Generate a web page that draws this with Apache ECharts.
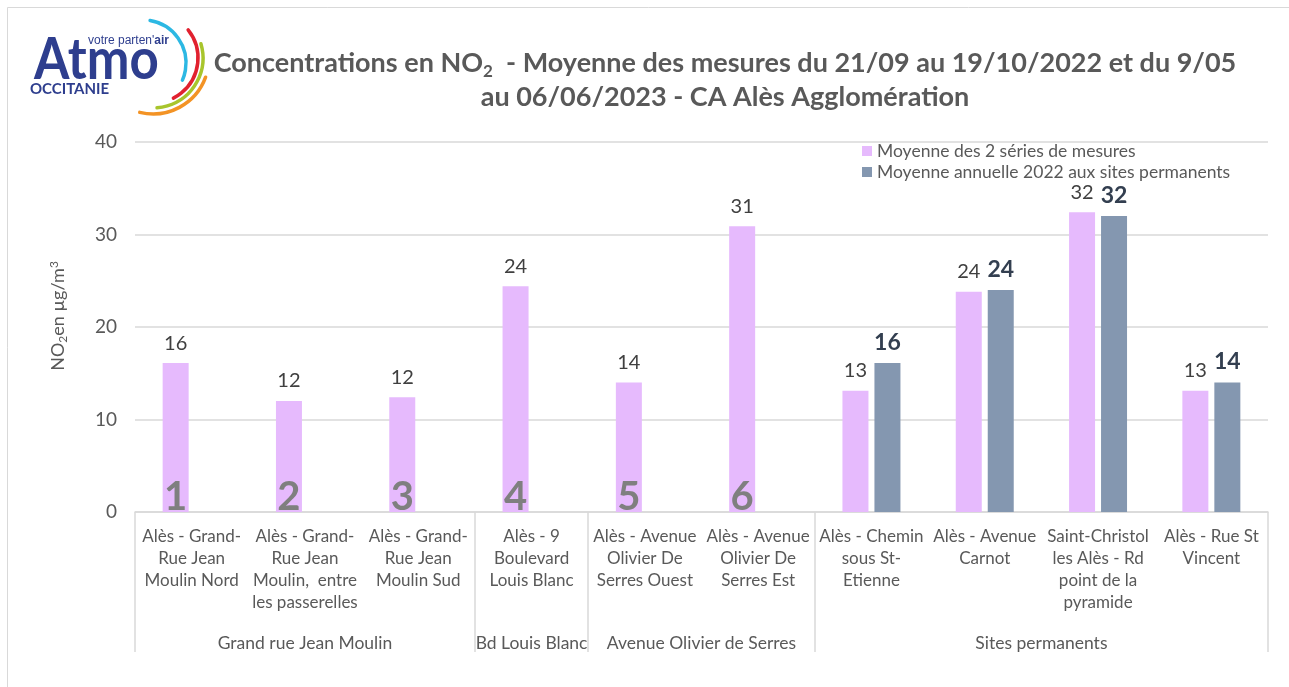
<!DOCTYPE html>
<html><head><meta charset="utf-8">
<script src="https://cdn.jsdelivr.net/npm/echarts@6/dist/echarts.min.js"></script>
<style>html,body{margin:0;padding:0;background:#fff}#c{width:1289px;height:687px}</style>
</head><body><div id="c"></div>
<script>
const categories = [
  'Alès - Grand-\nRue Jean\nMoulin Nord',
  'Alès - Grand-\nRue Jean\nMoulin,  entre\nles passerelles',
  'Alès - Grand-\nRue Jean\nMoulin Sud',
  'Alès - 9\nBoulevard\nLouis Blanc',
  'Alès - Avenue\nOlivier De\nSerres Ouest',
  'Alès - Avenue\nOlivier De\nSerres Est',
  'Alès - Chemin\nsous St-\nEtienne',
  'Alès - Avenue\nCarnot',
  'Saint-Christol\nles Alès - Rd\npoint de la\npyramide',
  'Alès - Rue St\nVincent'
];
const seriesNames = ['Moyenne des 2 séries de mesures', 'Moyenne annuelle 2022 aux sites permanents'];
const campaignValues = [16.1, 12.0, 12.4, 24.4, 14.0, 30.9, 13.1, 23.8, 32.4, 13.1];
const permanentValues = [null, null, null, null, null, null, 16.1, 24.0, 32.0, 14.0];
const siteNumbers = ['1', '2', '3', '4', '5', '6', '', '', '', ''];
const groupNames = ['Grand rue Jean Moulin', 'Bd Louis Blanc', 'Avenue Olivier de Serres', 'Sites permanents'];
const groupSizes = [3, 1, 2, 4];
const yTicks = [0, 10, 20, 30, 40];

const FONT = 'Lato';
const boundaries = [0];
const centers = [];
groupSizes.forEach(s => { const b = boundaries[boundaries.length - 1]; centers.push(b + s / 2); boundaries.push(b + s); });

const chart = echarts.init(document.getElementById('c'), null, {renderer: 'canvas'});
const BW = 26, GAP = '23%';
const LOGO = '#2E3E8E';
chart.setOption({
  backgroundColor: '#fff',
  animation: false,
  textStyle: {fontFamily: FONT},
  grid: {left: 135, right: 21, top: 142, bottom: 175, containLabel: false},
  legend: {
    data: seriesNames, orient: 'vertical', left: 857, top: 137, itemWidth: 10, itemHeight: 10, itemGap: 3,
    textStyle: {color: '#595959', fontSize: 17.5, fontFamily: FONT}, icon: 'rect', selectedMode: false
  },
  xAxis: [
    {type: 'category', data: categories, gridIndex: 0,
      axisLine: {lineStyle: {color: '#d9d9d9', width: 1.5}}, axisTick: {show: false},
      axisLabel: {interval: 0, color: '#595959', fontSize: 17, lineHeight: 22, margin: 14, fontFamily: FONT}},
    {type: 'value', min: 0, max: 10, gridIndex: 0, position: 'bottom',
      axisLine: {show: false}, splitLine: {show: false},
      axisTick: {show: true, customValues: boundaries, length: 140, inside: false, lineStyle: {color: '#d9d9d9', width: 1.5}},
      axisLabel: {customValues: centers, margin: 122, color: '#595959', fontSize: 17.5, fontFamily: FONT,
        formatter: v => { const i = centers.findIndex(c => Math.abs(c - v) < 1e-6); return i >= 0 ? groupNames[i] : ''; }}},
    {type: 'category', data: categories, gridIndex: 0, show: false}
  ],
  yAxis: {
    type: 'value', min: 0, max: 40, interval: 10,
    name: '{a|NO}{s|2}{a|en µg/m}{p|3}', nameLocation: 'middle', nameRotate: 90, nameGap: 66,
    nameTextStyle: {padding: [0, 0, 0, 22], rich: {
      a: {color: '#595959', fontSize: 18, fontFamily: FONT},
      s: {color: '#595959', fontSize: 12, fontFamily: FONT, verticalAlign: 'bottom', padding: [9, 0, 0, 0]},
      p: {color: '#595959', fontSize: 12, fontFamily: FONT, verticalAlign: 'top', padding: [0, 0, 9, 0]}
    }},
    axisLine: {show: false}, axisTick: {show: false},
    splitLine: {lineStyle: {color: '#d9d9d9', width: 1.5}},
    axisLabel: {color: '#595959', fontSize: 19, margin: 18, fontFamily: FONT,
      formatter: v => yTicks.includes(v) ? String(v) : ''}
  },
  series: [
    {name: seriesNames[0], type: 'bar', xAxisIndex: 0, data: campaignValues, barWidth: BW, barGap: GAP,
      itemStyle: {color: '#E6BAFD'},
      label: {show: true, position: 'top', distance: 10, color: '#404040', fontSize: 20, fontFamily: FONT,
        formatter: p => Math.round(p.value)}},
    {name: seriesNames[1], type: 'bar', xAxisIndex: 0, data: permanentValues, barWidth: BW, barGap: GAP,
      itemStyle: {color: '#8497B0'},
      label: {show: true, position: 'top', distance: 9, color: '#333F50', fontSize: 23, fontWeight: 'bold', fontFamily: FONT,
        formatter: p => Math.round(p.value)}},
    {name: 'num', type: 'bar', xAxisIndex: 2, silent: true, barWidth: BW, barGap: GAP,
      data: campaignValues.map((v, i) => siteNumbers[i] ? v : null),
      itemStyle: {color: 'rgba(0,0,0,0)'},
      label: {show: true, position: 'insideBottom', distance: -5, color: '#7F7F7F', fontSize: 40, fontWeight: 'bold', fontFamily: FONT,
        formatter: p => siteNumbers[p.dataIndex]}},
    {name: 'dummy', type: 'bar', xAxisIndex: 2, silent: true, barWidth: BW, barGap: GAP,
      data: categories.map(() => null), itemStyle: {color: 'rgba(0,0,0,0)'}}
  ],
  graphic: [
    {type: 'polyline', silent: true, shape: {points: [[7.5, 687], [7.5, 7.5], [1289, 7.5]]}, style: {stroke: '#d9d9d9', lineWidth: 1, fill: null}},
    {type: 'text', silent: true, style: {
      x: 725, y: 46, align: 'center', fontFamily: FONT, lineHeight: 34,
      text: '{a|Concentrations en NO}{s|2}{a|  - Moyenne des mesures du 21/09 au 19/10/2022 et du 9/05}\n{a|au 06/06/2023 - CA Alès Agglomération}',
      rich: {
        a: {fontSize: 27, fontWeight: 'bold', fill: '#595959', color: '#595959', fontFamily: FONT, lineHeight: 34},
        s: {fontSize: 17, fontWeight: 'bold', fill: '#595959', color: '#595959', fontFamily: FONT, verticalAlign: 'bottom', lineHeight: 34, padding: [15, 0, 0, 0]}
      }}},
    {type: 'text', silent: true, x: 34, y: 31, scaleX: 0.88, style: {x: 0, y: 0, text: 'Atmo', fontFamily: FONT, fontSize: 58, fontWeight: 'bold', fill: LOGO}},
    {type: 'text', silent: true, style: {x: 88, y: 35, fontFamily: FONT,
      text: '{a|votre parten\'}{b|air}', rich: {a: {fontSize: 12, fill: LOGO, color: LOGO}, b: {fontSize: 12, fontWeight: 'bold', fill: LOGO, color: LOGO}}}},
    {type: 'text', silent: true, style: {x: 30, y: 82, text: 'OCCITANIE', fontFamily: FONT, fontSize: 15, fontWeight: 'bold', fill: LOGO}},
    {type: 'arc', silent: true, shape: {cx: 143, cy: 63, r: 43, startAngle: -1.405, endAngle: 0.41, clockwise: true}, style: {stroke: '#2CB8E3', lineWidth: 3.5, fill: null, lineCap: 'round'}},
    {type: 'arc', silent: true, shape: {cx: 153, cy: 58, r: 45, startAngle: -0.675, endAngle: 1.1, clockwise: true}, style: {stroke: '#E1212F', lineWidth: 3.5, fill: null, lineCap: 'round'}},
    {type: 'arc', silent: true, shape: {cx: 153, cy: 58, r: 50, startAngle: -0.29, endAngle: 1.49, clockwise: true}, style: {stroke: '#A8C52C', lineWidth: 3.5, fill: null, lineCap: 'round'}},
    {type: 'arc', silent: true, shape: {cx: 153, cy: 58, r: 56, startAngle: 0.35, endAngle: 1.81, clockwise: true}, style: {stroke: '#F39325', lineWidth: 3.5, fill: null, lineCap: 'round'}}
  ]
});
</script></body></html>
